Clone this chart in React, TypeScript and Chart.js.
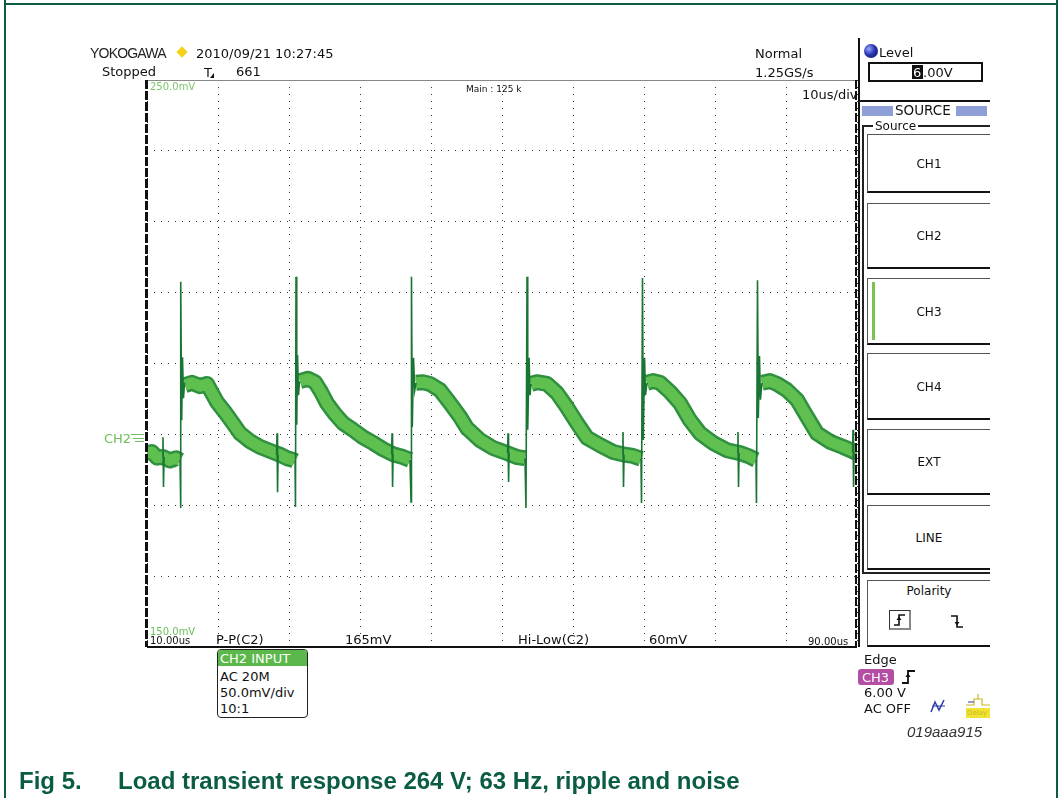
import React, { useEffect, useRef } from "react";
import { Chart, registerables } from "chart.js";
Chart.register(...registerables);

// ---- axes (time in µs, level in mV) ----
const timeMin = 10;
const timeMax = 90;
const timeStep = 8;
const mvMin = 150;
const mvMax = 250;
const mvStep = 12.5;

// ---- ripple band (centre of the noisy trace); null = break at a transient ----
const rippleTime = [
  10.0, 10.56, 11.13, 11.8, 12.59, 13.27, 13.72, 13.72,
  14.28, 15.07, 15.97, 16.76, 17.32, 17.89, 18.79, 19.58, 20.48, 21.61, 22.73, 23.86, 24.99, 25.77, 26.45, 26.68, 26.68,
  27.24, 28.14, 28.93, 29.61, 30.28, 31.18, 32.08, 33.21, 34.34, 35.46, 36.59, 37.72, 38.85, 39.63, 39.63,
  40.31, 41.1, 41.89, 43.01, 44.14, 45.27, 46.06, 47.52, 48.99, 50.56, 51.69, 52.59, 52.59,
  53.27, 53.94, 55.07, 56.2, 57.32, 58.45, 59.58, 61.04, 62.51, 63.86, 64.76, 65.66, 65.66,
  66.34, 67.01, 67.8, 68.93, 70.06, 71.18, 72.31, 73.78, 75.35, 76.82, 77.72, 78.62, 78.62,
  79.29, 80.19, 80.98, 82.11, 83.24, 84.37, 85.49, 86.96, 88.42, 90.0,
];
const rippleMv = [
  184.2, 184.4, 183.4, 183.5, 182.9, 183.3, 182.9, null,
  196.2, 196.6, 196.0, 196.4, 194.8, 193.2, 191.4, 189.7, 187.7, 186.3, 185.3, 184.6, 183.9, 183.3, 183.0, 182.8, null,
  196.9, 197.3, 196.7, 195.0, 193.0, 191.1, 189.5, 188.3, 187.0, 186.0, 184.9, 184.0, 183.5, 183.0, null,
  196.6, 196.7, 196.4, 195.3, 193.0, 190.6, 188.6, 186.5, 185.1, 184.2, 183.5, 183.3, null,
  196.4, 196.7, 196.4, 194.8, 192.3, 189.5, 186.9, 185.6, 184.4, 183.9, 183.7, 183.2, null,
  196.6, 196.9, 196.6, 195.0, 193.0, 190.0, 187.7, 186.0, 184.7, 184.2, 183.7, 183.0, null,
  196.6, 196.9, 196.4, 195.3, 193.6, 190.6, 187.7, 186.2, 185.3, 184.2,
];

// ---- switching spikes (thin trace) ----
const spikeTime = [
  11.75, 11.8, 11.86, 11.92, 11.92,
  13.72, 13.77, 13.83, 13.91, 14.0, 14.11, 14.23, 14.23,
  24.6, 24.65, 24.71, 24.77, 24.77,
  26.68, 26.73, 26.79, 26.87, 26.96, 27.07, 27.18, 27.18,
  37.56, 37.61, 37.67, 37.73, 37.73,
  39.63, 39.75, 39.8, 39.89, 40.03, 40.17, 40.31, 40.31,
  50.63, 50.68, 50.74, 50.8, 50.8,
  52.59, 52.7, 52.82, 52.9, 53.05, 53.16, 53.27, 53.27,
  63.58, 63.63, 63.69, 63.75, 63.75,
  65.66, 65.72, 65.83, 65.92, 66.06, 66.17, 66.34, 66.34,
  76.54, 76.59, 76.65, 76.71, 76.71,
  78.62, 78.67, 78.79, 78.88, 79.01, 79.12, 79.29, 79.29,
  89.5, 89.55, 89.61, 89.67,
];
const spikeMv = [
  183.5, 187.0, 178.2, 183.5, null,
  183.0, 174.5, 214.4, 190.0, 201.1, 193.9, 196.6, null,
  183.9, 187.7, 177.3, 183.9, null,
  182.8, 174.7, 215.3, 189.2, 201.5, 194.4, 196.9, null,
  184.0, 187.7, 178.2, 184.0, null,
  183.0, 175.6, 215.3, 188.8, 201.0, 195.3, 196.6, null,
  184.2, 187.7, 179.1, 184.2, null,
  183.3, 174.5, 215.3, 188.3, 201.0, 194.4, 196.4, null,
  183.9, 187.9, 178.2, 183.9, null,
  183.2, 175.4, 215.1, 186.5, 201.0, 194.4, 196.6, null,
  184.2, 187.9, 178.2, 184.2, null,
  183.0, 175.4, 214.7, 190.4, 201.3, 193.6, 196.6, null,
  184.4, 188.3, 178.2, 184.4,
];

const sourceButtons = ["CH1", "CH2", "CH3", "CH4", "EXT", "LINE"];
const buttonTops = [134, 203, 278, 353, 429, 505];
const buttonBottoms = [193, 269, 345, 420, 495, 570];

const UI = '"DejaVu Sans", Verdana, sans-serif';
const ARIAL = '"Liberation Sans", Arial, sans-serif';

function pts(t: number[], v: (number | null)[]) {
  return t.map((x, i) => ({ x, y: v[i] }));
}

type TP = {
  x: number;
  y: number;
  s?: number;
  c?: string;
  f?: string;
  center?: boolean;
  st?: React.CSSProperties;
  children?: React.ReactNode;
};
const Txt = ({ x, y, s = 13, c = "#111", f = UI, center, st, children }: TP) => (
  <div
    style={{
      position: "absolute",
      left: x,
      top: y - s * 0.5,
      fontSize: s,
      lineHeight: `${s}px`,
      fontFamily: f,
      color: c,
      whiteSpace: "nowrap",
      transform: center ? "translateX(-50%)" : undefined,
      ...st,
    }}
  >
    {children}
  </div>
);

const Box = ({ x, y, w, h, st }: { x: number; y: number; w: number; h: number; st?: React.CSSProperties }) => (
  <div style={{ position: "absolute", left: x, top: y, width: w, height: h, boxSizing: "border-box", ...st }} />
);

const dashedV = "repeating-linear-gradient(to bottom, #111 0px, #111 9px, rgba(0,0,0,0) 9px, rgba(0,0,0,0) 11px)";

export default function App() {
  const ref = useRef<HTMLCanvasElement | null>(null);

  useEffect(() => {
    if (!ref.current) return;
    const gridColor = "#333";
    const chart = new Chart(ref.current, {
      type: "line",
      data: {
        datasets: [
          {
            label: "spikes",
            data: pts(spikeTime, spikeMv),
            borderColor: "#1a7433",
            borderWidth: 1.6,
            pointRadius: 0,
            spanGaps: false,
            clip: 0,
          } as any,
          {
            label: "ripple",
            data: pts(rippleTime, rippleMv),
            borderColor: "#5fc04f",
            borderWidth: 11,
            pointRadius: 0,
            spanGaps: false,
            borderJoinStyle: "round",
            borderCapStyle: "butt",
            clip: 0,
          } as any,
          {
            label: "rippleEdge",
            data: pts(rippleTime, rippleMv),
            borderColor: "#2f9040",
            borderWidth: 16,
            pointRadius: 0,
            spanGaps: false,
            borderJoinStyle: "round",
            borderCapStyle: "butt",
            clip: 0,
          } as any,
        ],
      },
      options: {
        animation: false,
        responsive: false,
        events: [],
        layout: { padding: { left: 147, top: 80, right: 204, bottom: 151 } },
        plugins: { legend: { display: false }, tooltip: { enabled: false } },
        elements: { point: { radius: 0 }, line: { tension: 0 } },
        scales: {
          x: {
            type: "linear",
            min: timeMin,
            max: timeMax,
            ticks: { stepSize: timeStep, display: false },
            grid: { color: gridColor, lineWidth: 1, drawTicks: false },
            border: { display: false, dash: [1, 6] },
            afterFit: (s: any) => {
              s.height = 0;
            },
          },
          y: {
            type: "linear",
            min: mvMin,
            max: mvMax,
            ticks: { stepSize: mvStep, display: false },
            grid: { color: gridColor, lineWidth: 1, drawTicks: false },
            border: { display: false, dash: [1, 6] },
            afterFit: (s: any) => {
              s.width = 0;
            },
          },
        },
      } as any,
    });
    return () => chart.destroy();
  }, []);

  const btn = (i: number) => (
    <React.Fragment key={sourceButtons[i]}>
      <Box
        x={867}
        y={buttonTops[i]}
        w={123}
        h={buttonBottoms[i] - buttonTops[i]}
        st={{ borderTop: "1px solid #555", borderLeft: "1px solid #555", borderBottom: "2px solid #111", background: "#fff" }}
      />
      <Txt x={929} y={(buttonTops[i] + buttonBottoms[i]) / 2} s={12} center>
        {sourceButtons[i]}
      </Txt>
    </React.Fragment>
  );

  return (
    <div
      style={{
        position: "absolute",
        left: 0,
        top: 0,
        width: 1061,
        height: 798,
        overflow: "hidden",
        background: "#fff",
      }}
    >
      <canvas ref={ref} width={1061} height={798} style={{ position: "absolute", left: 0, top: 0 }} />

      {/* outer figure frame */}
      <Box x={4} y={3} w={1054} h={2} st={{ background: "#0d5a45" }} />
      <Box x={4} y={0} w={2} h={798} st={{ background: "#0d5a45" }} />
      <Box x={1056} y={0} w={2} h={798} st={{ background: "#0d5a45" }} />

      {/* screen borders */}
      <Box x={147} y={80} w={710} h={1} st={{ background: "#888" }} />
      <Box x={147} y={646} w={710} h={1.5} st={{ background: "#111" }} />
      <Box x={145} y={80} w={2.5} h={567} st={{ background: dashedV }} />
      <Box x={854.5} y={80} w={2.5} h={567} st={{ background: dashedV }} />
      <Box x={858} y={38} w={1.6} h={609} st={{ background: "#111" }} />

      {/* header */}
      <Txt x={90} y={53} s={14} f={ARIAL} st={{ letterSpacing: "-0.8px", color: "#222" }}>
        YOKOGAWA
      </Txt>
      <Box x={178} y={48} w={8} h={8} st={{ background: "#f4d21c", transform: "rotate(45deg)" }} />
      <Txt x={196} y={53} s={13}>
        2010/09/21 10:27:45
      </Txt>
      <Txt x={102} y={71} s={13}>
        Stopped
      </Txt>
      <Txt x={204} y={72} s={13}>
        T
      </Txt>
      <Box x={210} y={73} w={0} h={0} st={{ borderLeft: "4px solid transparent", borderBottom: "5px solid #111" }} />
      <Txt x={236} y={71} s={13}>
        661
      </Txt>
      <Txt x={755} y={53} s={13}>
        Normal
      </Txt>
      <Txt x={755} y={72} s={13}>
        1.25GS/s
      </Txt>
      <Txt x={802} y={94} s={13}>
        10us/div
      </Txt>
      <Txt x={466} y={89} s={9}>
        Main : 125 k
      </Txt>
      <Txt x={150} y={87} s={10} c="#7cc46a">
        250.0mV
      </Txt>

      {/* channel marker */}
      <Txt x={104} y={438} s={13} c="#6dbf5b">
        CH2
      </Txt>
      <Box x={131} y={434} w={13} h={1.3} st={{ background: "#6dbf5b" }} />
      <Box x={133} y={437.5} w={11} h={1.3} st={{ background: "#6dbf5b" }} />
      <Box x={135} y={441} w={9} h={1.3} st={{ background: "#6dbf5b" }} />

      {/* bottom of screen */}
      <Txt x={150} y={632} s={10} c="#6dbf5b">
        150.0mV
      </Txt>
      <Txt x={150} y={641} s={10}>
        10.00us
      </Txt>
      <Txt x={216} y={639} s={13}>
        P-P(C2)
      </Txt>
      <Txt x={345} y={639} s={13}>
        165mV
      </Txt>
      <Txt x={518} y={639} s={13}>
        Hi-Low(C2)
      </Txt>
      <Txt x={649} y={639} s={13}>
        60mV
      </Txt>
      <Txt x={808} y={642} s={10}>
        90.00us
      </Txt>

      {/* CH2 input box */}
      <div
        style={{
          position: "absolute",
          left: 217,
          top: 649,
          width: 91,
          height: 69,
          boxSizing: "border-box",
          border: "1.5px solid #222",
          borderRadius: 4,
          overflow: "hidden",
          background: "#fff",
        }}
      >
        <div style={{ height: 16, background: "#5cb84a" }} />
      </div>
      <Txt x={220} y={658} s={13} c="#fff">
        CH2 INPUT
      </Txt>
      <Txt x={220} y={676} s={13}>
        AC 20M
      </Txt>
      <Txt x={220} y={692} s={13}>
        50.0mV/div
      </Txt>
      <Txt x={220} y={708} s={13}>
        10:1
      </Txt>

      {/* right panel: level */}
      <div
        style={{
          position: "absolute",
          left: 864,
          top: 44,
          width: 14,
          height: 14,
          borderRadius: "50%",
          background: "radial-gradient(circle at 35% 35%, #9aa8ff 0%, #2a36b0 45%, #0b1160 100%)",
        }}
      />
      <Txt x={879} y={52} s={13}>
        Level
      </Txt>
      <Box x={868} y={62} w={115} h={20} st={{ border: "2px solid #111", background: "#fff" }} />
      <Box x={912} y={65} w={11} h={14} st={{ background: "#111" }} />
      <Txt x={913} y={72} s={13} c="#fff">
        6
      </Txt>
      <Txt x={923} y={72} s={13}>
        .00V
      </Txt>
      <Box x={858} y={100} w={132} h={2} st={{ background: "#111" }} />

      {/* SOURCE header */}
      <Box x={862} y={106} w={31} h={10} st={{ background: "#8e9fd8" }} />
      <Box x={956} y={106} w={31} h={10} st={{ background: "#8e9fd8" }} />
      <Txt x={895} y={111} s={13.5}>
        SOURCE
      </Txt>

      {/* Source group */}
      <Box x={862} y={125} w={128} h={1.5} st={{ background: "#222" }} />
      <Box x={862} y={125} w={1.5} h={448} st={{ background: "#222" }} />
      <Box x={862} y={572} w={128} h={1.5} st={{ background: "#222" }} />
      <Txt x={873} y={126} s={12} st={{ background: "#fff", padding: "0 2px" }}>
        Source
      </Txt>
      {sourceButtons.map((_, i) => btn(i))}
      <Box x={872} y={282} w={3} h={58} st={{ background: "#7cc24e" }} />

      {/* polarity */}
      <Box
        x={867}
        y={580}
        w={123}
        h={67}
        st={{ borderTop: "1px solid #555", borderLeft: "1px solid #555", borderBottom: "2px solid #111", background: "#fff" }}
      />
      <Txt x={929} y={591} s={12} center>
        Polarity
      </Txt>
      <Box
        x={889}
        y={610}
        w={22}
        h={20}
        st={{ border: "1px solid #333", borderRight: "2px solid #888", borderBottom: "2px solid #888" }}
      />
      <svg style={{ position: "absolute", left: 892, top: 612 }} width={16} height={16}>
        <path d="M2 13 H7 V3 H13" stroke="#111" strokeWidth={1.6} fill="none" />
        <path d="M4.5 8 L7 4.5 L9.5 8 Z" fill="#111" />
      </svg>
      <svg style={{ position: "absolute", left: 949, top: 613 }} width={16} height={18}>
        <path d="M2 3 H8 V14 H14" stroke="#111" strokeWidth={1.6} fill="none" />
        <path d="M5.5 9 L8 12.5 L10.5 9 Z" fill="#111" />
      </svg>

      {/* trigger info */}
      <Txt x={864} y={659} s={13}>
        Edge
      </Txt>
      <div
        style={{
          position: "absolute",
          left: 858,
          top: 669,
          width: 36,
          height: 16,
          borderRadius: 3,
          background: "#b34ea3",
        }}
      />
      <Txt x={862} y={677} s={13} c="#fff">
        CH3
      </Txt>
      <svg style={{ position: "absolute", left: 901, top: 668 }} width={16} height={18}>
        <path d="M1 15 H7 V3 H14" stroke="#111" strokeWidth={1.8} fill="none" />
        <path d="M4.5 9 L7 5 L9.5 9 Z" fill="#111" />
      </svg>
      <Txt x={864} y={692} s={13}>
        6.00 V
      </Txt>
      <Txt x={864} y={708} s={13}>
        AC OFF
      </Txt>
      <svg style={{ position: "absolute", left: 929, top: 698 }} width={18} height={16}>
        <polyline points="2,14 6,4 10,12 15,2" stroke="#2a3aa8" strokeWidth={1.5} fill="none" />
        <line x1="3" y1="8" x2="16" y2="8" stroke="#2a3aa8" strokeWidth={1} />
      </svg>
      <svg style={{ position: "absolute", left: 964, top: 693 }} width={28} height={16}>
        <path d="M2 12 H10 V6 H18 V12 H26" stroke="#c9b820" strokeWidth={1.2} fill="none" />
        <path d="M14 1 V6" stroke="#c9b820" strokeWidth={1.2} />
        <path d="M4 9 H10" stroke="#2a3aa8" strokeWidth={1} />
      </svg>
      <Box x={966} y={708} w={24} h={10} st={{ background: "#f2e233" }} />
      <Txt x={967} y={713} s={7} c="#c8b820">
        Delay
      </Txt>

      <Txt x={907} y={731} s={15} f={ARIAL} c="#333" st={{ fontStyle: "italic" }}>
        019aaa915
      </Txt>

      {/* caption */}
      <Txt x={19} y={781} s={24} f={ARIAL} c="#0b5c44" st={{ fontWeight: 700 }}>
        Fig 5.
      </Txt>
      <Txt x={118} y={781} s={24} f={ARIAL} c="#0b5c44" st={{ fontWeight: 700 }}>
        Load transient response 264 V; 63 Hz, ripple and noise
      </Txt>
    </div>
  );
}
